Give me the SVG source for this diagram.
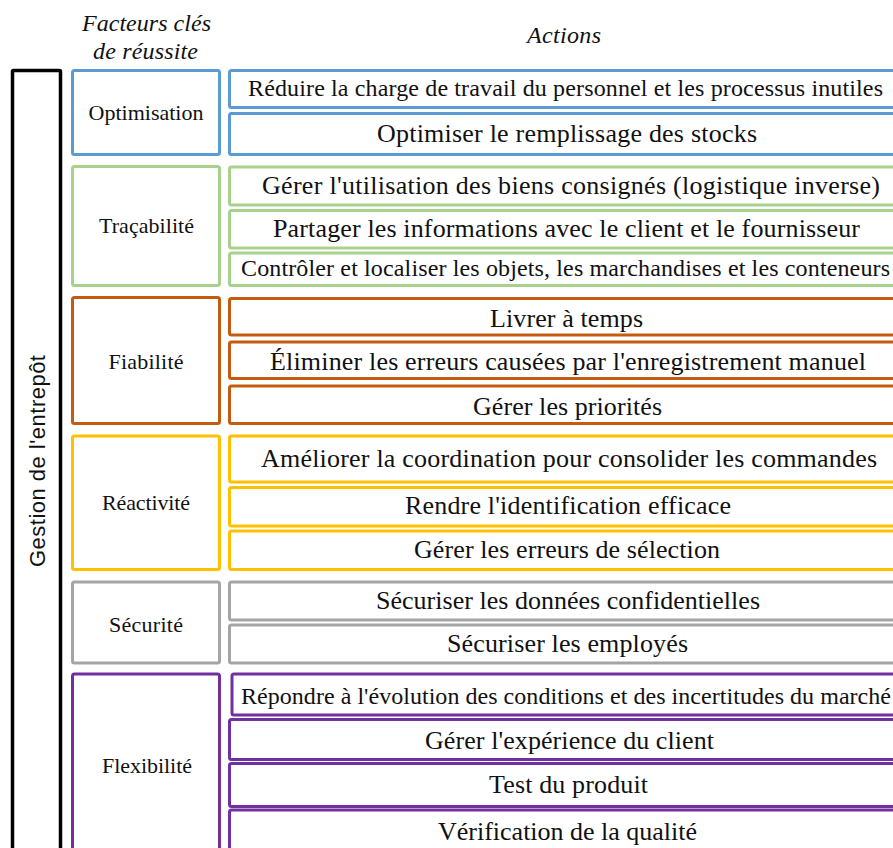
<svg xmlns="http://www.w3.org/2000/svg" width="893" height="848" viewBox="0 0 893 848">
<style>
rect{fill:#fff;stroke-width:3}
.blue{stroke:#5B9BD5}.green{stroke:#A9D18E}.orange{stroke:#C55A11}.gold{stroke:#FFC000}.gray{stroke:#A5A5A5}.purple{stroke:#7030A0}
text{font-family:"Liberation Serif","Times New Roman",serif;fill:#111;text-anchor:middle}
.f{font-size:22px}
.a{font-size:26px}
.s{font-size:24px}
.h{font-size:24px;font-style:italic}
.v{font-family:"Liberation Sans",Arial,sans-serif;font-size:22px}
</style>
<rect width="893" height="848" fill="#fff" stroke="none"/>
<g id="header">
<text class="h" x="146.5" y="31" textLength="129" lengthAdjust="spacing">Facteurs clés</text>
<text class="h" x="145.5" y="59" textLength="105" lengthAdjust="spacing">de réussite</text>
<text class="h" x="564" y="43" textLength="74" lengthAdjust="spacing">Actions</text>
</g>
<g id="gestion">
<rect x="12.5" y="70.5" width="48" height="800" style="stroke:#000;stroke-width:3.5" rx="1"/>
<text class="v" transform="translate(45,461) rotate(-90)" textLength="212" lengthAdjust="spacing">Gestion de l'entrepôt</text>
</g>

<g id="optimisation">
<rect class="blue" x="72.5" y="70.5" width="147" height="84" rx="2"/>
<text class="f" x="146" y="120" textLength="115" lengthAdjust="spacing">Optimisation</text>
</g>
<g id="a-opt-1"><rect class="blue" x="229.5" y="70.5" width="680" height="37" rx="2"/>
<text class="s" x="565.5" y="96" textLength="635" lengthAdjust="spacing">Réduire la charge de travail du personnel et les processus inutiles</text></g>
<g id="a-opt-2"><rect class="blue" x="229.5" y="113.5" width="680" height="41" rx="2"/>
<text class="a" x="567" y="142" textLength="380" lengthAdjust="spacing">Optimiser le remplissage des stocks</text></g>

<g id="tracabilite">
<rect class="green" x="72.5" y="166.5" width="147" height="119" rx="2"/>
<text class="f" x="146.5" y="233" textLength="95" lengthAdjust="spacing">Traçabilité</text>
</g>
<g id="a-tra-1"><rect class="green" x="229.5" y="167" width="680" height="38" rx="2"/>
<text class="a" x="571" y="194" textLength="618" lengthAdjust="spacing">Gérer l'utilisation  des biens consignés (logistique  inverse)</text></g>
<g id="a-tra-2"><rect class="green" x="229.5" y="210.5" width="680" height="37.5" rx="2"/>
<text class="a" x="566.5" y="237" textLength="587" lengthAdjust="spacing">Partager les informations avec le client et le fournisseur</text></g>
<g id="a-tra-3"><rect class="green" x="229.5" y="253" width="680" height="32.5" rx="2"/>
<text class="s" x="565.5" y="276" textLength="649" lengthAdjust="spacing">Contrôler et localiser les objets, les marchandises et les conteneurs</text></g>

<g id="fiabilite">
<rect class="orange" x="72.5" y="297.5" width="147" height="126" rx="2"/>
<text class="f" x="146" y="369" textLength="75" lengthAdjust="spacing">Fiabilité</text>
</g>
<g id="a-fia-1"><rect class="orange" x="229.5" y="298.5" width="680" height="36.5" rx="2"/>
<text class="a" x="566.5" y="327" textLength="153" lengthAdjust="spacing">Livrer à temps</text></g>
<g id="a-fia-2"><rect class="orange" x="229.5" y="342" width="680" height="36.5" rx="2"/>
<text class="a" x="568" y="370" textLength="596" lengthAdjust="spacing">Éliminer les erreurs causées par l'enregistrement manuel</text></g>
<g id="a-fia-3"><rect class="orange" x="229.5" y="386" width="680" height="37.5" rx="2"/>
<text class="a" x="567.5" y="415" textLength="189" lengthAdjust="spacing">Gérer les priorités</text></g>

<g id="reactivite">
<rect class="gold" x="72.5" y="436" width="147" height="133.5" rx="2"/>
<text class="f" x="146" y="510" textLength="88" lengthAdjust="spacing">Réactivité</text>
</g>
<g id="a-rea-1"><rect class="gold" x="229.5" y="436" width="680" height="46" rx="2"/>
<text class="a" x="569" y="467" textLength="616" lengthAdjust="spacing">Améliorer la coordination pour consolider les commandes</text></g>
<g id="a-rea-2"><rect class="gold" x="229.5" y="487.5" width="680" height="38.5" rx="2"/>
<text class="a" x="568" y="514" textLength="326" lengthAdjust="spacing">Rendre l'identification  efficace</text></g>
<g id="a-rea-3"><rect class="gold" x="229.5" y="531" width="680" height="38.5" rx="2"/>
<text class="a" x="567" y="558" textLength="306" lengthAdjust="spacing">Gérer les erreurs de sélection</text></g>

<g id="securite">
<rect class="gray" x="72.5" y="582" width="147" height="81" rx="2"/>
<text class="f" x="146" y="632" textLength="74" lengthAdjust="spacing">Sécurité</text>
</g>
<g id="a-sec-1"><rect class="gray" x="229.5" y="582" width="680" height="38" rx="2"/>
<text class="a" x="568" y="609" textLength="384" lengthAdjust="spacing">Sécuriser les données confidentielles</text></g>
<g id="a-sec-2"><rect class="gray" x="229.5" y="625" width="680" height="38" rx="2"/>
<text class="a" x="567.5" y="652" textLength="241" lengthAdjust="spacing">Sécuriser les employés</text></g>

<g id="flexibilite">
<rect class="purple" x="72.5" y="674" width="147" height="200" rx="2"/>
<text class="f" x="147" y="773" textLength="90" lengthAdjust="spacing">Flexibilité</text>
</g>
<g id="a-fle-1"><rect class="purple" x="232" y="674" width="680" height="41" rx="2"/>
<text class="s" x="241" y="704" style="text-anchor:start" textLength="650" lengthAdjust="spacing">Répondre à l'évolution des conditions et des incertitudes du marché</text></g>
<g id="a-fle-2"><rect class="purple" x="229.5" y="719.5" width="680" height="40" rx="2"/>
<text class="a" x="569.5" y="749" textLength="289" lengthAdjust="spacing">Gérer l'expérience du client</text></g>
<g id="a-fle-3"><rect class="purple" x="229.5" y="763.5" width="680" height="43" rx="2"/>
<text class="a" x="568.5" y="793" textLength="159" lengthAdjust="spacing">Test du produit</text></g>
<g id="a-fle-4"><rect class="purple" x="229.5" y="810" width="680" height="60" rx="2"/>
<text class="a" x="567.5" y="840" textLength="259" lengthAdjust="spacing">Vérification de la qualité</text></g>
</svg>
